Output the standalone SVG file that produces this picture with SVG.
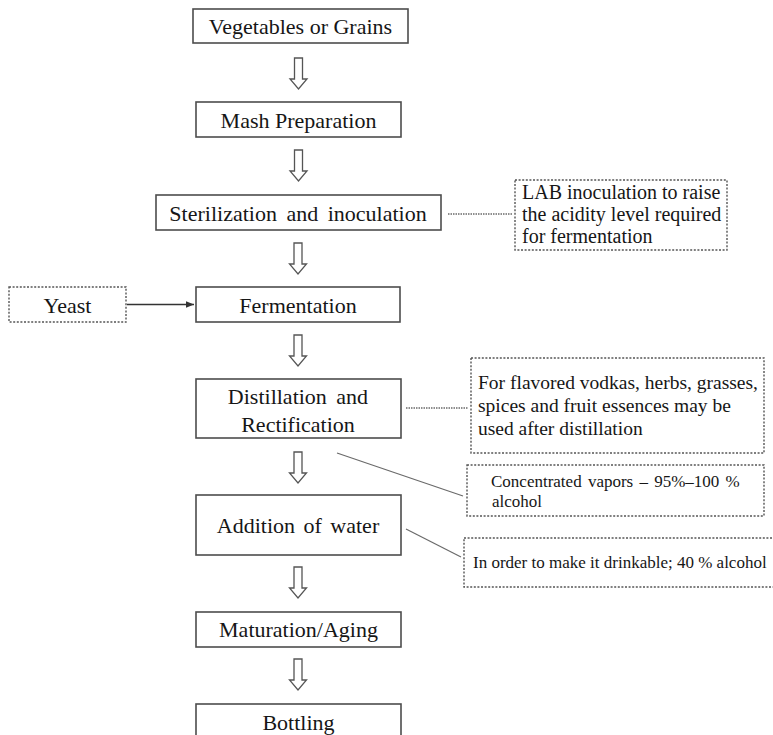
<svg xmlns="http://www.w3.org/2000/svg" width="773" height="735" viewBox="0 0 773 735" font-family="'Liberation Serif', 'DejaVu Serif', serif">
  <style>
    .step { fill: #ffffff; stroke: #4d4d4d; stroke-width: 1.6; }
    .note { fill: #ffffff; stroke: #555555; stroke-width: 1.4; stroke-dasharray: 2 1.6; }
    text { font-family: 'Liberation Serif', 'DejaVu Serif', serif; fill: #161616; }
    .big { font-size: 22px; }
    .mid { font-size: 19.5px; }
    .lab { font-size: 20px; }
    .small { font-size: 17px; }
    .flow { fill: #ffffff; stroke: #555555; stroke-width: 1.3; stroke-linejoin: miter; }
    .link { fill: none; stroke: #6a6a6a; stroke-width: 1.2; }
    .dotlink { fill: none; stroke: #6a6a6a; stroke-width: 1.4; stroke-dasharray: 1.5 1; }
  </style>
  <defs>
    <!-- hollow block arrow, drawn with its top at 0 and centred on x=0 -->
    <path id="down" d="M-4,0 H4 V21 H8.5 L0,31 L-8.5,21 H-4 Z"/>
    <marker id="tip" viewBox="0 0 8 8" refX="8" refY="4" markerWidth="8" markerHeight="8" markerUnits="userSpaceOnUse" orient="auto">
      <path d="M0,0.8 L8,4 L0,7.2 Z" fill="#333333"/>
    </marker>
  </defs>

  <rect width="773" height="735" fill="#ffffff"/>

  <!-- connectors -->
  <g id="connectors">
    <use href="#down" class="flow" x="298.5" y="58"/>
    <use href="#down" class="flow" x="298.5" y="150"/>
    <use href="#down" class="flow" x="298" y="243"/>
    <use href="#down" class="flow" x="298" y="335"/>
    <use href="#down" class="flow" x="298" y="452"/>
    <use href="#down" class="flow" x="298" y="567"/>
    <use href="#down" class="flow" x="298" y="659"/>
    <line x1="127" y1="304.5" x2="194" y2="304.5" stroke="#333333" stroke-width="1.3" marker-end="url(#tip)"/>
    <line class="dotlink" x1="448" y1="214" x2="513" y2="214"/>
    <line class="dotlink" x1="406" y1="408" x2="468" y2="408"/>
    <line class="link" x1="337" y1="453" x2="463" y2="496"/>
    <line class="link" x1="406" y1="529" x2="461" y2="557"/>
  </g>

  <!-- process steps -->
  <g id="vegetables">
    <rect class="step" x="193" y="9" width="215" height="34"/>
    <text class="big" x="300.5" y="34" text-anchor="middle">Vegetables or Grains</text>
  </g>
  <g id="mash">
    <rect class="step" x="196" y="102" width="205" height="35"/>
    <text class="big" x="298.5" y="127.5" text-anchor="middle">Mash Preparation</text>
  </g>
  <g id="sterilization">
    <rect class="step" x="156" y="195" width="285" height="35"/>
    <text class="big" x="298" y="220.5" text-anchor="middle" word-spacing="4">Sterilization and inoculation</text>
  </g>
  <g id="fermentation">
    <rect class="step" x="196" y="287" width="204" height="35"/>
    <text class="big" x="298" y="312.5" text-anchor="middle">Fermentation</text>
  </g>
  <g id="distillation">
    <rect class="step" x="196" y="379" width="205" height="59"/>
    <text class="big" x="298" y="404" text-anchor="middle" word-spacing="4">Distillation and</text>
    <text class="big" x="298" y="432" text-anchor="middle">Rectification</text>
  </g>
  <g id="water">
    <rect class="step" x="196" y="495" width="205" height="60"/>
    <text class="big" x="298" y="533" text-anchor="middle" word-spacing="3">Addition of water</text>
  </g>
  <g id="maturation">
    <rect class="step" x="196" y="612" width="205" height="35"/>
    <text class="big" x="298.5" y="637" text-anchor="middle">Maturation/Aging</text>
  </g>
  <g id="bottling">
    <rect class="step" x="196" y="704" width="205" height="36"/>
    <text class="big" x="298.5" y="730" text-anchor="middle">Bottling</text>
  </g>

  <!-- side notes -->
  <g id="yeast">
    <rect class="note" x="9" y="287" width="117" height="35"/>
    <text class="big" x="67.5" y="312.5" text-anchor="middle">Yeast</text>
  </g>
  <g id="lab-note">
    <rect class="note" x="515" y="180" width="212" height="70"/>
    <text class="lab" x="522" y="199">LAB inoculation to raise</text>
    <text class="lab" x="522" y="221">the acidity level required</text>
    <text class="lab" x="522" y="243">for fermentation</text>
  </g>
  <g id="flavor-note">
    <rect class="note" x="471" y="358" width="293" height="95"/>
    <text class="mid" x="478" y="389">For flavored vodkas, herbs, grasses,</text>
    <text class="mid" x="478" y="412">spices and fruit essences may be</text>
    <text class="mid" x="478" y="435">used after distillation</text>
  </g>
  <g id="vapor-note">
    <rect class="note" x="467" y="465" width="297" height="51"/>
    <text class="small" x="491" y="487" word-spacing="2">Concentrated vapors – 95%–100 %</text>
    <text class="small" x="492" y="507">alcohol</text>
  </g>
  <g id="water-note">
    <rect class="note" x="464" y="538" width="318" height="49"/>
    <text class="small" x="473" y="568">In order to make it drinkable; 40 % alcohol</text>
  </g>
</svg>
